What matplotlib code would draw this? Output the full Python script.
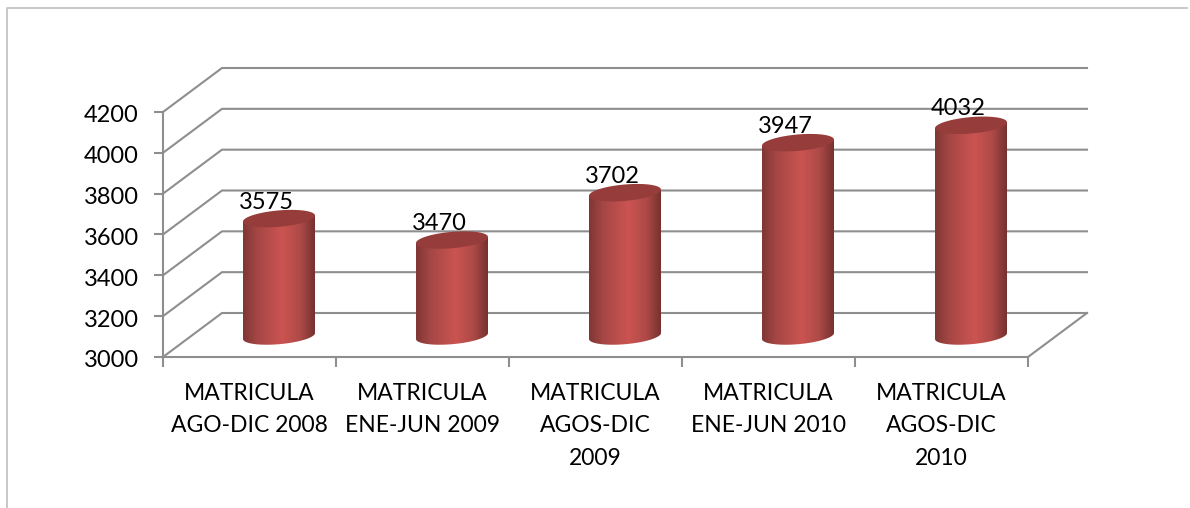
import numpy as np
import matplotlib
matplotlib.use("Agg")
import matplotlib.pyplot as plt
from matplotlib.colors import LinearSegmentedColormap
from matplotlib.lines import Line2D
from matplotlib.patches import Polygon
from matplotlib.transforms import ScaledTranslation

plt.rcParams['font.family'] = ['Lato', 'DejaVu Sans']

categories = ["MATRICULA\nAGO-DIC 2008", "MATRICULA\nENE-JUN 2009", "MATRICULA\nAGOS-DIC\n2009",
              "MATRICULA\nENE-JUN 2010", "MATRICULA\nAGOS-DIC\n2010"]
values = [3575, 3470, 3702, 3947, 4032]
y_ticks = [3000, 3200, 3400, 3600, 3800, 4000, 4200]

W, H = 1190, 508
L, R, B, T = 163, 1028, 357, 112
GRID = '#8e8e8e'
FS = 16.5
FS_NUM = 17

fig = plt.figure(figsize=(W / 100, H / 100), dpi=100)
ax = fig.add_axes([L / W, 1 - B / H, (R - L) / W, (B - T) / H])
ax.set_xlim(0, 5)
ax.set_ylim(3000, 4200)

px_x = 5 / (R - L)
px_y = 1200 / (B - T)
dx, dy = 59 * px_x, 44 * px_y

# frame
fig.add_artist(Line2D([6.5 / W, 6.5 / W, 1187 / W], [0, 1 - 7.5 / H, 1 - 7.5 / H], color='#c4c4c4', lw=1.3))

# walls and floor
for v in y_ticks:
    ax.plot([0, dx, 5 + dx], [v, v + dy, v + dy], color=GRID, lw=1.5, clip_on=False, zorder=1, solid_joinstyle='miter')
ax.plot([5, 5 + dx], [3000, 3000 + dy], color=GRID, lw=1.5, clip_on=False, zorder=1)

for s in ('top', 'right'):
    ax.spines[s].set_visible(False)
for s in ('left', 'bottom'):
    ax.spines[s].set_color(GRID)
    ax.spines[s].set_linewidth(1.5)
    ax.spines[s].set_zorder(1)

ax.set_yticks(y_ticks)
ax.tick_params(axis='y', length=6.5, width=1.5, color=GRID, labelsize=FS_NUM, pad=11, labelcolor='black')
shift = ScaledTranslation(0, -2 / 100, fig.dpi_scale_trans)
for lab in ax.get_yticklabels():
    lab.set_transform(lab.get_transform() + shift)
ax.set_xticks(range(6))
ax.set_xticklabels([])
ax.set_xticks(np.arange(5) + 0.5, categories, minor=True, linespacing=1.68)
ax.tick_params(axis='x', which='major', length=7, width=1.5, color=GRID)
ax.tick_params(axis='x', which='minor', length=0, labelsize=FS, pad=18.5, labelcolor='black')

# cylinders
cmap = LinearSegmentedColormap.from_list('cyl', [
    (0.0, '#803735'), (0.2, '#a54745'), (0.55, '#cb5451'), (0.8, '#ad4a47'), (1.0, '#763130')])
half_w, tilt, minor = 36 * px_x, 3 * px_y, 8.2 * px_y
t = np.linspace(0, 2 * np.pi, 121)
ex, ey = half_w * np.cos(t), tilt * np.cos(t) + minor * np.sin(t)
base_c = 3000 + dy / 2 - 1 * px_y

for i, v in enumerate(values):
    cx = i + 0.5 + dx / 2
    top_c = v + dy / 2 - 1 * px_y
    lower = t[(t >= np.pi) & (t <= 2 * np.pi)]
    bx = cx + half_w * np.cos(lower)
    by = base_c + tilt * np.cos(lower) + minor * np.sin(lower)
    body = np.vstack([np.column_stack([bx, by]),
                      [[cx + half_w, top_c + tilt], [cx - half_w, top_c - tilt]]])
    im = ax.imshow(np.linspace(0, 1, 128)[None, :], cmap=cmap, aspect='auto', zorder=3,
                   extent=(cx - half_w, cx + half_w, 3000, 4200), interpolation='bilinear', clip_on=True)
    clip = Polygon(body, closed=True, transform=ax.transData, facecolor='none', edgecolor='none')
    ax.add_patch(clip)
    im.set_clip_path(clip)
    ax.add_patch(Polygon(np.column_stack([cx + ex, top_c + ey]), closed=True, facecolor='#963c3a',
                         edgecolor='none', zorder=4, clip_on=False))
    ax.text(cx - 12.5 * px_x, top_c + 16.5 * px_y, str(v), ha='center', va='center', fontsize=FS_NUM,
            color='black', zorder=5, clip_on=False)

ax.set_xlim(0, 5)
ax.set_ylim(3000, 4200)
fig.savefig('out.png', dpi=100, facecolor='white')
